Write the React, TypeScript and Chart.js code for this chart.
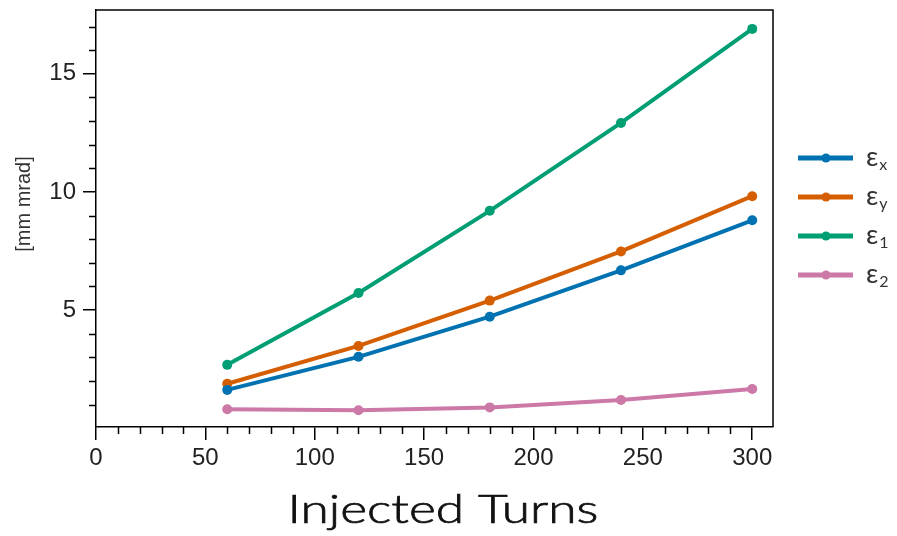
import React, { useEffect, useRef } from "react";
import { Chart, registerables } from "chart.js";

Chart.register(...registerables);

const turns = [60, 120, 180, 240, 300];
const epsX = [1.62, 3.02, 4.72, 6.68, 8.8];
const epsY = [1.88, 3.48, 5.4, 7.48, 9.82];
const eps1 = [2.68, 5.72, 9.2, 12.92, 16.9];
const eps2 = [0.8, 0.76, 0.88, 1.19, 1.66];

const seriesValues = [epsX, epsY, eps1, eps2];
const seriesSubs = ["x", "y", "1", "2"];
const seriesColors = ["#0072B2", "#D55E00", "#009E73", "#CC79A7"];

const xMajorTicks = [0, 50, 100, 150, 200, 250, 300];
const yMajorTicks = [5, 10, 15];
const xMinorTicks = [10, 20, 30, 40, 60, 70, 80, 90, 110, 120, 130, 140, 160, 170, 180, 190, 210, 220, 230, 240, 260, 270, 280, 290];
const yMinorTicks = [1, 2, 3, 4, 6, 7, 8, 9, 11, 12, 13, 14, 16, 17];

const xTitle = "Injected Turns";
const yTitle = "[mm mrad]";

const decorPlugin = {
  id: "decor",
  afterDraw(chart: any) {
    const ctx = chart.ctx;
    const { left, right, top, bottom } = chart.chartArea;
    const xs = chart.scales.x;
    const ys = chart.scales.y;
    ctx.save();
    ctx.strokeStyle = "#000";
    ctx.lineWidth = 1.5;
    // frame top/right
    ctx.beginPath();
    ctx.moveTo(left, top);
    ctx.lineTo(right, top);
    ctx.lineTo(right, bottom);
    ctx.stroke();
    // minor ticks
    ctx.beginPath();
    xMinorTicks.forEach((v) => {
      const px = Math.round(xs.getPixelForValue(v)) + 0.5;
      ctx.moveTo(px, bottom);
      ctx.lineTo(px, bottom + 7);
    });
    yMinorTicks.forEach((v) => {
      const py = Math.round(ys.getPixelForValue(v)) + 0.5;
      ctx.moveTo(left, py);
      ctx.lineTo(left - 7, py);
    });
    ctx.stroke();

    // y title
    ctx.fillStyle = "#333";
    ctx.font = "20px 'Liberation Sans', Arial, sans-serif";
    ctx.textAlign = "center";
    ctx.textBaseline = "middle";
    ctx.save();
    ctx.translate(24, 204);
    ctx.rotate(-Math.PI / 2);
    ctx.fillText(yTitle, 0, 0);
    ctx.restore();

    // x title
    ctx.save();
    ctx.font = "300 39px Lato, 'Open Sans', sans-serif";
    ctx.fillStyle = "#111";
    ctx.strokeStyle = "#111";
    ctx.lineWidth = 0.7;
    ctx.textBaseline = "alphabetic";
    ctx.textAlign = "center";
    const w = ctx.measureText(xTitle).width;
    const sx = 311 / w;
    ctx.translate(443, 523);
    ctx.scale(sx, 1);
    ctx.fillText(xTitle, 0, 0);
    ctx.strokeText(xTitle, 0, 0);
    ctx.restore();

    // legend
    chart.data.datasets.forEach((ds: any, i: number) => {
      const y = 158 + i * 39;
      ctx.strokeStyle = ds.borderColor;
      ctx.lineWidth = 5;
      ctx.beginPath();
      ctx.moveTo(798, y);
      ctx.lineTo(853, y);
      ctx.stroke();
      ctx.fillStyle = ds.borderColor;
      ctx.beginPath();
      ctx.arc(826, y, 4.5, 0, Math.PI * 2);
      ctx.fill();
      ctx.fillStyle = "#333";
      ctx.textAlign = "left";
      ctx.textBaseline = "alphabetic";
      ctx.font = "27px Lato, 'Open Sans', sans-serif";
      ctx.fillText("ε", 866, y + 8);
      const ew = ctx.measureText("ε").width;
      ctx.font = "16px Lato, 'Open Sans', sans-serif";
      ctx.fillText(ds.sub, 866 + ew + 1, y + 12);
    });
    ctx.restore();
  },
};

export default function App() {
  const ref = useRef<HTMLCanvasElement>(null);
  useEffect(() => {
    if (!ref.current) return;
    const tickFont = { family: "'Liberation Sans', Arial, sans-serif", size: 24 };
    const chart = new Chart(ref.current, {
      type: "line",
      data: {
        datasets: seriesValues.map((vals, i) => ({
          label: "ε" + seriesSubs[i],
          sub: seriesSubs[i],
          data: turns.map((t, j) => ({ x: t, y: vals[j] })),
          borderColor: seriesColors[i],
          backgroundColor: seriesColors[i],
          pointBackgroundColor: seriesColors[i],
          pointBorderWidth: 0,
          pointRadius: 5,
          borderWidth: 4,
          tension: 0,
        })) as any,
      },
      options: {
        animation: false,
        responsive: false,
        layout: { padding: { left: 0, right: 124, top: 10, bottom: 0 } },
        plugins: { legend: { display: false }, tooltip: { enabled: false } },
        scales: {
          x: {
            type: "linear",
            min: 0,
            max: 309.5,
            afterBuildTicks: (s: any) => {
              s.ticks = xMajorTicks.map((v) => ({ value: v }));
            },
            afterFit: (s: any) => {
              s.height = 109;
              s.paddingLeft = 0;
              s.paddingRight = 0;
            },
            grid: { display: true, drawOnChartArea: false, drawTicks: true, tickLength: 13, color: "#000", lineWidth: 1.5 },
            border: { display: true, color: "#000", width: 1.5 },
            ticks: { font: tickFont, color: "#222", padding: 4, maxRotation: 0, autoSkip: false },
          },
          y: {
            type: "linear",
            min: 0.05,
            max: 17.7,
            afterBuildTicks: (s: any) => {
              s.ticks = yMajorTicks.map((v) => ({ value: v }));
            },
            afterFit: (s: any) => {
              s.width = 96;
              s.paddingTop = 0;
              s.paddingBottom = 0;
            },
            grid: { display: true, drawOnChartArea: false, drawTicks: true, tickLength: 13, color: "#000", lineWidth: 1.5 },
            border: { display: true, color: "#000", width: 1.5 },
            ticks: { font: tickFont, color: "#222", padding: 7, autoSkip: false },
          },
        },
      },
      plugins: [decorPlugin],
    });
    return () => chart.destroy();
  }, []);
  return (
    <div style={{ position: "fixed", left: 0, top: 0, width: 897, height: 536, background: "#fff" }}>
      <canvas ref={ref} width={897} height={536} />
    </div>
  );
}
